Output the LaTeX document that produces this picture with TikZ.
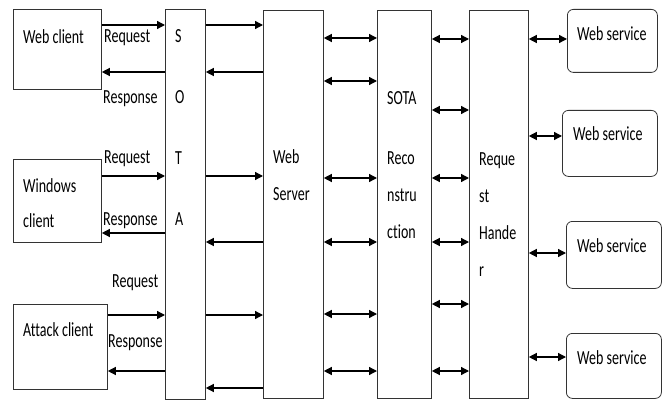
\documentclass[tikz,border=0pt]{standalone}
\usepackage{fontspec}
\setmainfont{Carlito}[FakeStretch=0.7, Ligatures=NoCommon]
\usepackage{tikz}
\usetikzlibrary{arrows.meta,positioning,calc}

\begin{document}
\begin{tikzpicture}[
  x=1pt, y=-1pt,
  box/.style={draw=black!80, line width=0.8pt, anchor=north west,
              inner sep=0pt},
  svc/.style={box, rounded corners=6pt},
  txt/.style={inner sep=0pt, anchor=base west, align=left,
              font=\fontsize{20}{37}\selectfont},
  arr/.style={-{Triangle[length=8pt,width=8pt]}, line width=1.3pt},
  biarr/.style={{Triangle[length=8pt,width=8pt]}-{Triangle[length=8pt,width=8pt]},
                line width=1.3pt},
]
\useasboundingbox (0,0) rectangle (669,401);

% clients
\node[box, minimum width=88pt, minimum height=80pt] (webcl) at (13,9) {};
\node[box, minimum width=88pt, minimum height=83pt] (wincl) at (13,159) {};
\node[box, minimum width=94pt, minimum height=85pt] (attcl) at (13,304) {};
\node[txt] (webcltxt) at (23,44) {Web client};
\node[txt, font=\fontsize{20}{35}\selectfont] (wincltxt) at (23,227) {Windows\\client};
\node[txt] (attcltxt) at (23,336) {Attack client};

% columns (multi-line texts sit on their last baseline)
\node[box, minimum width=40pt, minimum height=390pt] (sota) at (165,9) {};
\node[box, minimum width=60pt, minimum height=388pt] (websrv) at (263,10) {};
\node[box, minimum width=54pt, minimum height=388pt] (recon) at (377,10) {};
\node[box, minimum width=59pt, minimum height=388pt] (reqh) at (469,10) {};
\node[txt, font=\fontsize{20}{60.7}\selectfont] (sotatxt) at (175,225) {S\\O\\T\\A};
\node[txt] (websrvtxt) at (273,200) {Web\\Server};
\node[txt] (recontxt) at (387,238) {SOTA\\[23pt]Reco\\nstru\\ction};
\node[txt] (reqhtxt) at (479,276) {Reque\\st\\Hande\\r};

% web services
\node[svc, minimum width=90pt, minimum height=63pt] (ws1) at (567,9) {};
\node[svc, minimum width=95pt, minimum height=66pt] (ws2) at (562,110) {};
\node[svc, minimum width=95pt, minimum height=67pt] (ws3) at (566,221) {};
\node[svc, minimum width=95pt, minimum height=65pt] (ws4) at (566,333) {};
\node[txt] (ws1txt) at (577,41) {Web service};
\node[txt] (ws2txt) at (573,141) {Web service};
\node[txt] (ws3txt) at (577,252) {Web service};
\node[txt] (ws4txt) at (577,364) {Web service};

% requests and responses
\draw[arr] (webcl.east |- 0,25) -- (sota.west |- 0,25);
\draw[arr] (sota.west |- 0,72) -- (webcl.east |- 0,72);
\draw[arr] (wincl.east |- 0,176) -- (sota.west |- 0,176);
\draw[arr] (sota.west |- 0,233) -- (wincl.east |- 0,233);
\draw[arr] (attcl.east |- 0,315) -- (sota.west |- 0,315);
\draw[arr] (sota.west |- 0,371) -- (attcl.east |- 0,371);
\node[txt] (req1) at (104,43) {Request};
\node[txt] (resp1) at (103,104) {Response};
\node[txt] (req2) at (104,164) {Request};
\node[txt] (resp2) at (103,225) {Response};
\node[txt] (req3) at (112,287) {Request};
\node[txt] (resp3) at (108,347) {Response};

% sota to web server
\foreach \y in {25,176,315}
  \draw[arr] (sota.east |- 0,\y) -- (websrv.west |- 0,\y);
\foreach \y in {72,242,388}
  \draw[arr] (websrv.west |- 0,\y) -- (sota.east |- 0,\y);

% web server to reconstruction to handler
\foreach \y in {38,81,178,242,314,371}
  \draw[biarr] (websrv.east |- 0,\y) -- (recon.west |- 0,\y);
\foreach \y in {39,110,178,242,304,371}
  \draw[biarr] (recon.east |- 0,\y) -- (reqh.west |- 0,\y);

% handler to services
\draw[biarr] (reqh.east |- 0,39) -- (ws1.west |- 0,39);
\draw[biarr] (reqh.east |- 0,136) -- (ws2.west |- 0,136);
\draw[biarr] (reqh.east |- 0,253) -- (ws3.west |- 0,253);
\draw[biarr] (reqh.east |- 0,357) -- (ws4.west |- 0,357);

\end{tikzpicture}
\end{document}
